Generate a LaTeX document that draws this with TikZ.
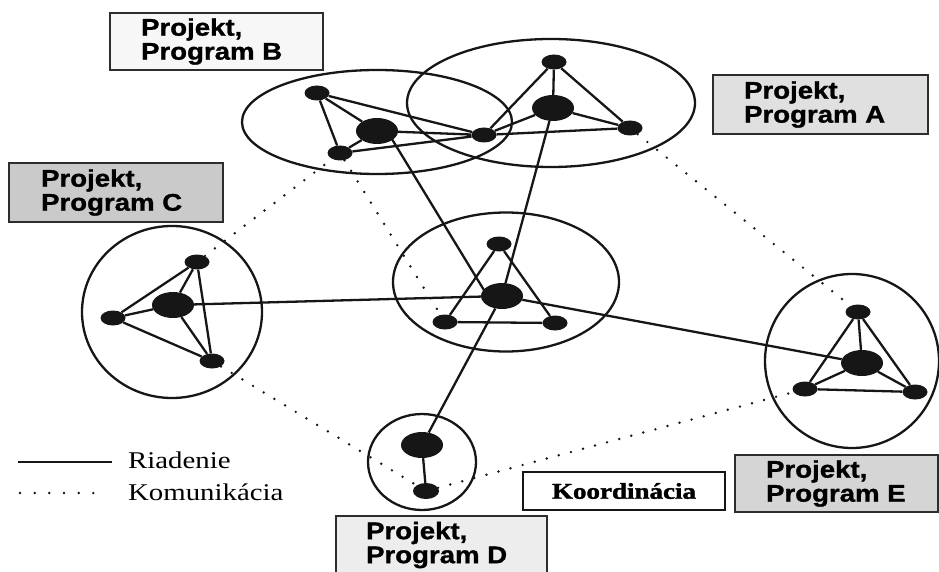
\documentclass[tikz,border=0pt]{standalone}
\usepackage{fontspec}
\usetikzlibrary{shapes.geometric}
\newfontfamily\boxfont[FakeStretch=1.15,FakeBold=1.2]{Liberation Sans}
\newfontfamily\serfont[FakeStretch=1.2]{Liberation Serif}
\newfontfamily\heavyserif[FakeStretch=1.2,FakeBold=1.6]{Liberation Serif}
\definecolor{ink}{HTML}{161616}
\definecolor{fillB}{HTML}{F7F7F7}
\definecolor{fillA}{HTML}{E0E0E0}
\definecolor{fillC}{HTML}{CACACA}
\definecolor{fillE}{HTML}{D5D5D5}
\definecolor{fillD}{HTML}{EDEDED}

\begin{document}
\begin{tikzpicture}[x=1pt,y=-1pt,
  hub/.style={ellipse,fill=ink,inner sep=0,minimum width=42pt,minimum height=26pt},
  member/.style={ellipse,fill=ink,inner sep=0,minimum width=25pt,minimum height=15pt},
  group/.style={ellipse,draw=ink,line width=2.3pt,inner sep=0},
  ctrl/.style={line width=2.3pt,draw=ink},
  comm/.style={line width=2.7pt,line cap=round,dash pattern=on 0pt off 12.5pt,draw=ink},
  projbox/.style={rectangle,draw=ink!90,line width=2.2pt,inner sep=0pt},
  projtext/.style={anchor=west,inner sep=0pt,align=left,
    font=\boxfont\bfseries\fontsize{24}{24}\selectfont},
  legtext/.style={inner sep=0pt,font=\serfont\fontsize{24}{26}\selectfont}
]
\useasboundingbox (0,0) rectangle (939,572);

% project / programme groups
\node[group,minimum width=270pt,minimum height=104pt] (gB) at (377,122) {};
\node[group,minimum width=288pt,minimum height=128pt] (gA) at (551,103) {};
\node[group,minimum width=226pt,minimum height=139pt] (gO) at (506,282) {};
\node[group,minimum width=180pt,minimum height=172pt] (gC) at (172,312) {};
\node[group,minimum width=174pt,minimum height=174pt] (gE) at (852,361) {};
\node[group,minimum width=108pt,minimum height=96pt] (gD) at (422,462) {};

% members of group B
\node[member] (b1) at (317,93) {};
\node[hub] (b0) at (377,131) {};
\node[member] (b2) at (340,153) {};
\node[member] (s) at (484,135) {};
% members of group A
\node[member] (a1) at (554,62) {};
\node[hub] (a0) at (553,108) {};
\node[member] (a2) at (630,128) {};
% central group
\node[member] (o1) at (499,244) {};
\node[hub] (o0) at (502,296) {};
\node[member] (o2) at (445,322) {};
\node[member] (o3) at (555,323) {};
% group C
\node[member] (c1) at (197,262) {};
\node[hub] (c0) at (173,305) {};
\node[member] (c2) at (113,318) {};
\node[member] (c3) at (212,361) {};
% group E
\node[member] (e1) at (858,312) {};
\node[hub] (e0) at (862,363) {};
\node[member] (e2) at (805,389) {};
\node[member] (e3) at (915,392) {};
% group D
\node[hub] (d0) at (422,445) {};
\node[member,minimum width=26pt,minimum height=16pt] (d1) at (426,491) {};

% control links inside the groups
\draw[ctrl] (b1)--(b0) (b1)--(b2) (b1)--(s) (b0)--(b2) (b0)--(s) (b2)--(s);
\draw[ctrl] (a1)--(a0) (a1)--(a2) (a1)--(s) (a0)--(s) (a0)--(a2) (s)--(a2);
\draw[ctrl] (o1)--(o2) (o1)--(o3) (o2)--(o3);
\draw[ctrl] (c1)--(c0) (c1)--(c2) (c1)--(c3) (c0)--(c2) (c0)--(c3) (c2)--(c3);
\draw[ctrl] (e1)--(e0) (e1)--(e2) (e1)--(e3) (e0)--(e2) (e0)--(e3) (e2)--(e3);
\draw[ctrl] (d0)--(d1);

% control links between the hubs
\draw[ctrl] ([xshift=10pt]b0.center) -- ([xshift=-12pt,yshift=-4pt]o0.center);
\draw[ctrl] (a0)--(o0);
\draw[ctrl] (o0)--(d0);
\draw[ctrl] (c0)--(o0);
\draw[ctrl] (o0)--(e0);

% communication links
\draw[comm] (c1)--(b2);
\draw[comm] (b2)--(o2);
\draw[comm] (a2)--(e1);
\draw[comm] (c3)--(d1);
\draw[comm] (d1)--(e2);

% project boxes
\node[projbox,fill=fillB,minimum width=213pt,minimum height=57pt] (pB) at (216.5,41.5) {};
\node[projbox,fill=fillA,minimum width=215pt,minimum height=59pt] (pA) at (820.5,104.5) {};
\node[projbox,fill=fillC,minimum width=214pt,minimum height=59pt] (pC) at (116,192.5) {};
\node[projbox,fill=fillE,minimum width=203pt,minimum height=57pt] (pE) at (836.5,483.5) {};
\node[projbox,fill=fillD,minimum width=211pt,minimum height=58pt] (pD) at (441.5,545) {};
\node[projtext] (tB) at ([xshift=32pt]pB.west) {Projekt,\\Program B};
\node[projtext] (tA) at ([xshift=32pt]pA.west) {Projekt,\\Program A};
\node[projtext] (tC) at ([xshift=33pt]pC.west) {Projekt,\\Program C};
\node[projtext] (tE) at ([xshift=32pt]pE.west) {Projekt,\\Program E};
\node[projtext] (tD) at ([xshift=31pt]pD.west) {Projekt,\\Program D};
\node[rectangle,draw=ink,line width=2.2pt,fill=white,minimum width=202pt,minimum height=38pt,inner sep=0pt,
  font=\heavyserif\bfseries\fontsize{22.5}{24}\selectfont] (koord) at (624,491) {Koordinácia};

% legend
\coordinate (rl) at (18,462);
\coordinate (rr) at (112,462);
\draw[ctrl] (rl)--(rr);
\coordinate (kl) at (20,493);
\coordinate (kr) at (108,493);
\draw[comm,dash pattern=on 0pt off 14.67pt] (kl)--(kr);
\node[legtext,anchor=base west] (lr) at (128,468) {Riadenie};
\node[legtext,anchor=base west] (lk) at (128,500) {Komunikácia};
\end{tikzpicture}
\end{document}
